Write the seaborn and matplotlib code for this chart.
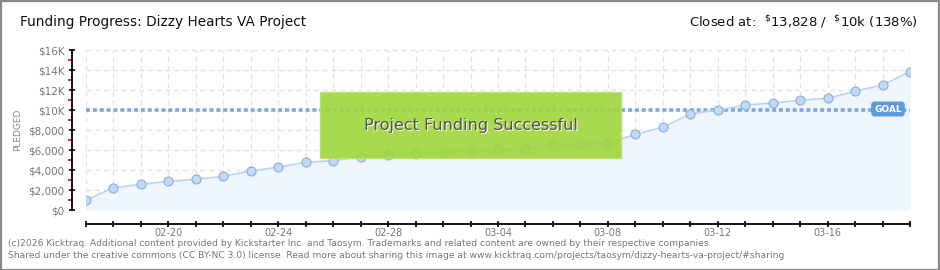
import matplotlib
matplotlib.use("Agg")
import matplotlib.pyplot as plt
import matplotlib.dates as mdates
from matplotlib.patches import Rectangle
from matplotlib.ticker import FixedLocator, FuncFormatter, MultipleLocator
import numpy as np
import pandas as pd
import seaborn as sns

# ---------------- data ----------------
dates = pd.date_range("2026-02-17", "2026-03-19", freq="D")
pledged = [1000, 2230, 2570, 2870, 3070, 3370, 3900, 4270, 4770, 4930,
           5330, 5500, 5600, 5730, 6000, 6070, 6100, 6500, 6570, 6670,
           7570, 8270, 9600, 10000, 10500, 10700, 10970, 11170, 11870, 12500,
           13828]
goal = 10000
title = "Funding Progress: Dizzy Hearts VA Project"
status = r"Closed at:  $^{\$}$13,828 /  $^{\$}$10k (138%)"
banner = "Project Funding Successful"
footer1 = ("(c)2026 Kicktraq. Additional content provided by Kickstarter Inc. and Taosym. "
           "Trademarks and related content are owned by their respective companies.")
footer2 = ("Shared under the creative commons (CC BY-NC 3.0) license. Read more about sharing "
           "this image at www.kicktraq.com/projects/taosym/dizzy-hearts-va-project/#sharing")
ytick_vals = [0, 2000, 4000, 6000, 8000, 10000, 12000, 14000, 16000]
ytick_labels = ["$0", "$2,000", "$4,000", "$6,000", "$8,000", "$10K", "$12K", "$14K", "$16K"]

df = pd.DataFrame({"date": dates, "pledged": pledged})

# ---------------- figure ----------------
sns.set_theme(style="white")
plt.rcParams["font.family"] = ["DejaVu Sans"]

W, H = 940, 270
fig = plt.figure(figsize=(W / 100, H / 100), dpi=100)
fig.patch.set_facecolor("white")

left, right, top, bottom = 86, 910, 50, 210
ax = fig.add_axes([left / W, 1 - bottom / H, (right - left) / W, (bottom - top) / H])
ax.set_facecolor("white")

line_c = "#b9d5f2"
fill_c = "#eef5fd"
ax.fill_between(df["date"], 0, df["pledged"], color=fill_c, zorder=1, lw=0)
sns.lineplot(data=df, x="date", y="pledged", ax=ax, color=line_c, lw=1.2, zorder=3)
sns.scatterplot(data=df, x="date", y="pledged", ax=ax, s=42, color="#c0daf6",
                edgecolor="#8eaed6", linewidth=0.8, zorder=4)

# goal line
ax.axhline(goal, color="#7ea8dc", lw=2.6, ls=(0, (1.1, 0.8)), zorder=2)

ax.set_xlim(dates[0], dates[-1])
ax.set_ylim(0, 16000)

# grid
ax.xaxis.set_major_locator(mdates.DayLocator())
ax.yaxis.set_major_locator(FixedLocator(ytick_vals))
ax.yaxis.set_minor_locator(MultipleLocator(1000))
ax.grid(True, which="major", axis="both", color="#e2e2e2", ls=(0, (4, 3)), lw=0.9)
ax.set_axisbelow(True)

labelled = set(d for i, d in enumerate(dates) if (i - 3) % 4 == 0)
ax.xaxis.set_major_formatter(FuncFormatter(
    lambda v, p: mdates.num2date(v).strftime("%m-%d")
    if pd.Timestamp(mdates.num2date(v).date()) in labelled else ""))
ax.set_yticklabels(ytick_labels)

for s in ["top", "right"]:
    ax.spines[s].set_visible(False)
ax.spines["left"].set_position(("outward", 10))
ax.spines["bottom"].set_position(("outward", 10))
for s in ["left", "bottom"]:
    ax.spines[s].set_color("black")
    ax.spines[s].set_linewidth(1.3)

ax.tick_params(axis="x", which="major", direction="inout", length=5, width=1.2,
               color="black", labelsize=7, labelcolor="#777777", pad=0.5, bottom=True)
ax.tick_params(axis="y", which="major", direction="inout", length=5, width=1.2,
               color="black", labelsize=7.5, labelcolor="#777777", pad=3, left=True)
ax.tick_params(axis="y", which="minor", direction="out", length=3, width=1.2,
               color="#e00000", left=True)
ax.set_xlabel("")
ax.set_ylabel("PLEDGED", fontsize=6.5, color="#888888", labelpad=8)
ax.yaxis.set_label_coords(-64 / (right - left), 0.5)

# banner
bx0, bx1, by0, by1 = 320, 621, 92, 158
fig.patches.append(Rectangle((bx0 / W, 1 - by1 / H), (bx1 - bx0) / W, (by1 - by0) / H,
                             transform=fig.transFigure, facecolor="#9fd63c", alpha=0.9,
                             edgecolor="#b7e36a", lw=1, zorder=10))
cx, cy = (bx0 + bx1) / 2, (by0 + by1) / 2
fig.text(cx / W + 1 / W, 1 - cy / H - 1 / H, banner, ha="center", va="center",
         fontsize=11.5, color="white", zorder=11)
fig.text(cx / W, 1 - cy / H, banner, ha="center", va="center",
         fontsize=11.5, color="#555555", zorder=12)

# GOAL tag
fig.text(888 / W, 1 - 109 / H, "GOAL", ha="center", va="center", fontsize=6.5,
         color="white", fontweight="bold", zorder=12,
         bbox=dict(boxstyle="round,pad=0.25,rounding_size=0.3", fc="#5b9bdc", ec="#5b9bdc"))

# titles
fig.text(20 / W, 1 - 22 / H, title, ha="left", va="center", fontsize=9.8, color="#111111")
fig.text(918 / W, 1 - 22 / H, status, ha="right", va="center", fontsize=9.5, color="#111111")

# footer
fig.text(8 / W, 1 - 243 / H, footer1, ha="left", va="center", fontsize=6.6, color="#777777")
fig.text(8 / W, 1 - 256 / H, footer2, ha="left", va="center", fontsize=6.6, color="#777777")

# frame
fig.patches.append(Rectangle((0.5 / W, 0.5 / H), 1 - 1.5 / W, 1 - 1.5 / H,
                             transform=fig.transFigure, fill=False,
                             edgecolor="#888888", lw=1.6, zorder=20))

fig.savefig("out.png", dpi=100, facecolor="white")
